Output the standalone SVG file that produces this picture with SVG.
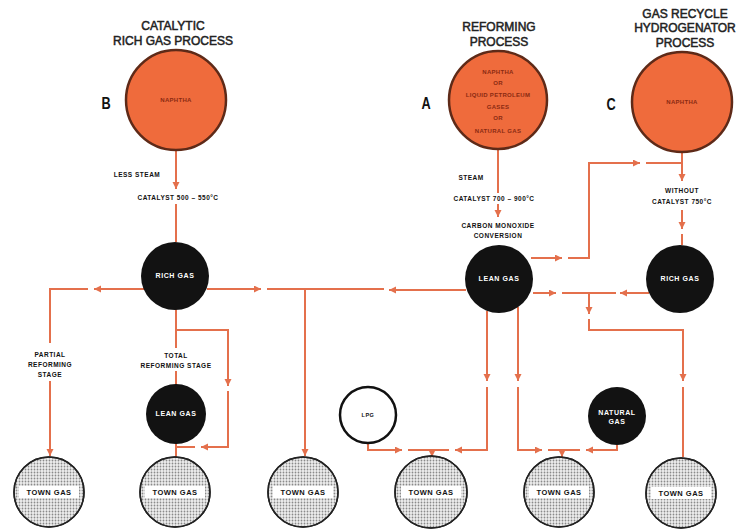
<svg xmlns="http://www.w3.org/2000/svg" width="740" height="529" viewBox="0 0 740 529">
<defs>
<marker id="ar" markerWidth="8" markerHeight="8" refX="7" refY="3.5" orient="auto" markerUnits="userSpaceOnUse">
<path d="M0,0 L7,3.5 L0,7 z" fill="#e4704c"/>
</marker>
<pattern id="dots" width="3" height="3" patternUnits="userSpaceOnUse">
<rect width="3" height="3" fill="#eeeeee"/>
<circle cx="1.5" cy="1.5" r="0.9" fill="#8a8a8a"/>
</pattern>
<style>
.ln{fill:none;stroke:#e4704c;stroke-width:2}
.a{marker-end:url(#ar)}
.feed{fill:#ef6b3c;stroke:#5e2a18;stroke-width:2.5}
.blk{fill:#121212}
.town{fill:url(#dots);stroke:#222;stroke-width:1.5}
.title{font-family:"Liberation Sans",Arial,sans-serif;font-size:12px;fill:#222;stroke:#222;stroke-width:0.5;text-anchor:middle}
.lbl{font-family:"Liberation Sans",Arial,sans-serif;font-size:6.5px;font-weight:bold;fill:#111;letter-spacing:0.5px;text-anchor:middle}
.wt{font-family:"Liberation Sans",Arial,sans-serif;font-size:7px;font-weight:bold;fill:#fff;letter-spacing:0.6px;text-anchor:middle}
.in{font-family:"Liberation Sans",Arial,sans-serif;font-size:6px;font-weight:bold;fill:#8a2a12;letter-spacing:0.3px;text-anchor:middle}
.big{font-family:"Liberation Sans",Arial,sans-serif;font-size:17px;font-weight:bold;fill:#111;text-anchor:middle}
.tg{font-family:"Liberation Sans",Arial,sans-serif;font-size:7.5px;font-weight:bold;fill:#111;letter-spacing:0.5px;text-anchor:middle}
</style>
</defs>
<rect width="740" height="529" fill="#ffffff"/>

<g id="connectors">
<!-- B feed -->
<path class="ln a" d="M176,151 V189"/>
<path class="ln" d="M176,204 V242"/>
<!-- rich gas B left -->
<path class="ln a" d="M144,289 H94"/>
<path class="ln" d="M88,289 H50 V343"/>
<path class="ln a" d="M50,381 V456"/>
<!-- rich gas B right -->
<path class="ln a" d="M207,289 H261"/>
<path class="ln" d="M267,289 H384"/>
<path class="ln a" d="M305,289 V456"/>
<!-- lean gas A left -->
<path class="ln a" d="M466,290 H389"/>
<!-- rich gas B down -->
<path class="ln" d="M176,309 V348"/>
<path class="ln" d="M176,371 V385"/>
<path class="ln a" d="M176,330 H228 V386"/>
<path class="ln a" d="M228,391 V447 H201"/>
<path class="ln" d="M195,447 H176"/>
<path class="ln" d="M176,443 V458"/>
<!-- lean gas A down left -->
<path class="ln a" d="M487,311 V381"/>
<path class="ln a" d="M487,387 V450 H455"/>
<path class="ln a" d="M368,443 V450 H402"/>
<path class="ln" d="M408,450 H449"/>
<path class="ln a" d="M432,450 V457"/>
<!-- lean gas A down right -->
<path class="ln a" d="M518,307 V381"/>
<path class="ln a" d="M518,387 V450 H542"/>
<path class="ln" d="M548,450 H580"/>
<path class="ln a" d="M562,450 V457"/>
<path class="ln a" d="M617,445 V450 H586"/>
<!-- A feed -->
<path class="ln" d="M498,149 V193"/>
<path class="ln a" d="M498,204 V217"/>
<!-- lean gas A right upper -->
<path class="ln a" d="M531,258 H562"/>
<path class="ln" d="M568,258 H589 V163 H633"/>
<path class="ln a" d="M620,163 H640"/>
<path class="ln" d="M646,163 H682"/>
<!-- C feed -->
<path class="ln a" d="M682,153 V181"/>
<path class="ln a" d="M682,210 V229"/>
<path class="ln" d="M682,234 V245"/>
<!-- lean gas A right lower -->
<path class="ln a" d="M533,293 H556"/>
<path class="ln" d="M562,293 H616"/>
<path class="ln a" d="M649,293 H620"/>
<path class="ln a" d="M589,293 V314"/>
<path class="ln a" d="M589,319 V330 H683 V381"/>
<path class="ln" d="M683,387 V457"/>
</g>

<!-- titles -->
<text class="title" x="173" y="30">CATALYTIC</text>
<text class="title" x="173" y="45">RICH GAS PROCESS</text>
<text class="title" x="499" y="31">REFORMING</text>
<text class="title" x="499" y="46">PROCESS</text>
<text class="title" x="685" y="18">GAS RECYCLE</text>
<text class="title" x="685" y="32">HYDROGENATOR</text>
<text class="title" x="685" y="47">PROCESS</text>
<text class="big" x="106" y="109" transform="translate(106 0) scale(0.75 1) translate(-106 0)">B</text>
<text class="big" x="426" y="109" transform="translate(426 0) scale(0.75 1) translate(-426 0)">A</text>
<text class="big" x="611" y="110" transform="translate(611 0) scale(0.75 1) translate(-611 0)">C</text>

<!-- labels -->
<text class="lbl" x="137" y="177">LESS STEAM</text>
<text class="lbl" x="178" y="200">CATALYST 500 – 550°C</text>
<text class="lbl" x="471" y="180">STEAM</text>
<text class="lbl" x="494" y="201">CATALYST 700 – 900°C</text>
<text class="lbl" x="498" y="228">CARBON MONOXIDE</text>
<text class="lbl" x="498" y="238">CONVERSION</text>
<text class="lbl" x="682" y="193">WITHOUT</text>
<text class="lbl" x="682" y="204">CATALYST 750°C</text>
<text class="lbl" x="50" y="357">PARTIAL</text>
<text class="lbl" x="50" y="367">REFORMING</text>
<text class="lbl" x="50" y="377">STAGE</text>
<text class="lbl" x="176" y="358">TOTAL</text>
<text class="lbl" x="176" y="368">REFORMING STAGE</text>

<g id="feedB"><circle class="feed" cx="176" cy="100" r="50"/><text class="in" x="176" y="102">NAPHTHA</text></g>
<g id="feedA"><circle class="feed" cx="498" cy="100" r="49"/>
<text class="in" x="498" y="74">NAPHTHA</text>
<text class="in" x="498" y="85">OR</text>
<text class="in" x="498" y="97">LIQUID PETROLEUM</text>
<text class="in" x="498" y="109">GASES</text>
<text class="in" x="498" y="120">OR</text>
<text class="in" x="498" y="133">NATURAL GAS</text>
</g>
<g id="feedC"><circle class="feed" cx="682" cy="102" r="50"/><text class="in" x="682" y="104">NAPHTHA</text></g>

<g id="richB"><circle class="blk" cx="175" cy="276" r="34"/><text class="wt" x="175" y="278">RICH GAS</text></g>
<g id="leanA"><circle class="blk" cx="499" cy="279" r="34"/><text class="wt" x="499" y="281">LEAN GAS</text></g>
<g id="richC"><circle class="blk" cx="680" cy="279" r="34"/><text class="wt" x="680" y="281">RICH GAS</text></g>
<g id="leanB"><circle class="blk" cx="176" cy="414" r="30"/><text class="wt" x="176" y="416">LEAN GAS</text></g>
<g id="natgas"><circle class="blk" cx="617" cy="416" r="29"/><text class="wt" x="617" y="415">NATURAL</text><text class="wt" x="617" y="424">GAS</text></g>
<g id="lpg"><circle cx="368" cy="415" r="28" fill="#fff" stroke="#111" stroke-width="2.5"/><text class="lbl" x="368" y="417" style="font-size:5.5px">LPG</text></g>

<g id="town1"><circle class="town" cx="49" cy="492" r="35"/><rect x="19" y="486" width="60" height="12" fill="#fff"/><circle cx="49" cy="492" r="35" fill="none" stroke="#222" stroke-width="1.5"/><text class="tg" x="49" y="494.5">TOWN GAS</text></g>
<g id="town2"><circle class="town" cx="175" cy="492" r="35"/><rect x="145" y="486" width="60" height="12" fill="#fff"/><circle cx="175" cy="492" r="35" fill="none" stroke="#222" stroke-width="1.5"/><text class="tg" x="175" y="494.5">TOWN GAS</text></g>
<g id="town3"><circle class="town" cx="303" cy="492" r="35"/><rect x="273" y="486" width="60" height="12" fill="#fff"/><circle cx="303" cy="492" r="35" fill="none" stroke="#222" stroke-width="1.5"/><text class="tg" x="303" y="494.5">TOWN GAS</text></g>
<g id="town4"><circle class="town" cx="431" cy="492" r="36"/><rect x="401" y="486" width="60" height="12" fill="#fff"/><circle cx="431" cy="492" r="36" fill="none" stroke="#222" stroke-width="1.5"/><text class="tg" x="431" y="494.5">TOWN GAS</text></g>
<g id="town5"><circle class="town" cx="559" cy="492" r="35"/><rect x="529" y="486" width="60" height="12" fill="#fff"/><circle cx="559" cy="492" r="35" fill="none" stroke="#222" stroke-width="1.5"/><text class="tg" x="559" y="494.5">TOWN GAS</text></g>
<g id="town6"><circle class="town" cx="681" cy="493" r="35"/><rect x="651" y="487" width="60" height="12" fill="#fff"/><circle cx="681" cy="493" r="35" fill="none" stroke="#222" stroke-width="1.5"/><text class="tg" x="681" y="495.5">TOWN GAS</text></g>
</svg>
